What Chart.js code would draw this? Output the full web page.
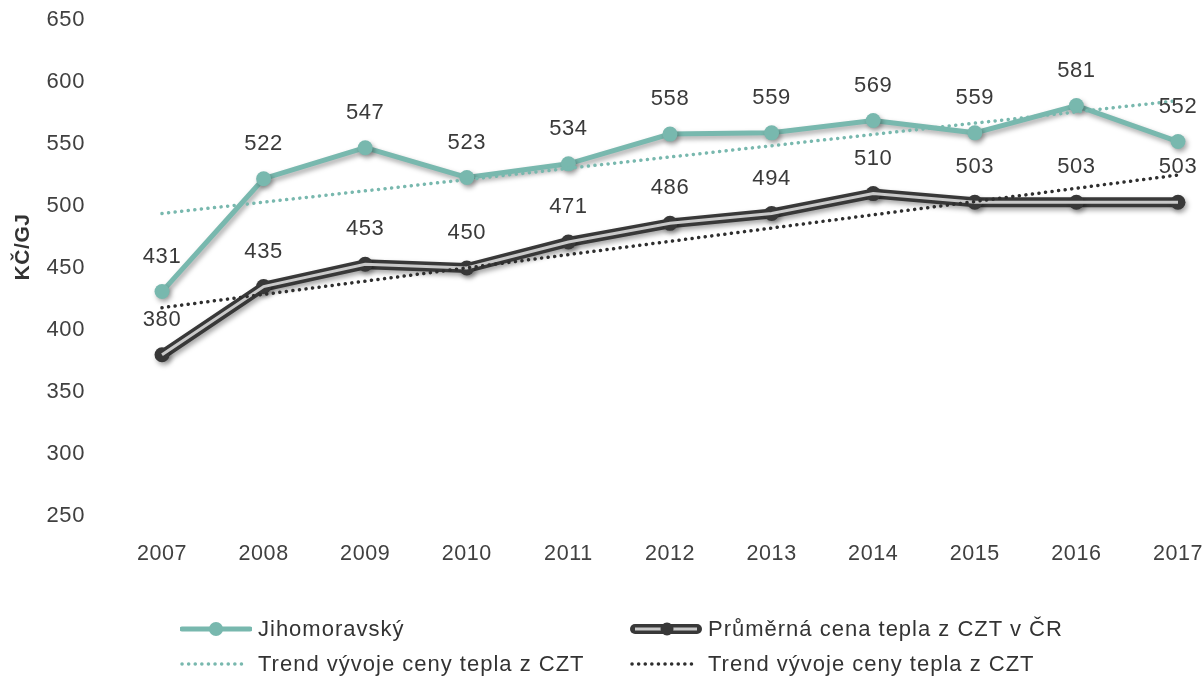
<!DOCTYPE html>
<html>
<head>
<meta charset="utf-8">
<script src="https://cdn.jsdelivr.net/npm/chart.js@4/dist/chart.umd.min.js"></script>
<style>
  body { margin: 0; background: #fff; }
  #wrap { position: relative; width: 1203px; height: 677px; }
  #legend { position: absolute; left: 0; top: 0; width: 1203px; height: 677px; pointer-events: none;
            font-family: "Liberation Sans", Arial, sans-serif; font-size: 22px; letter-spacing: 1px; color: #333; }
  .item { position: absolute; height: 30px; display: flex; align-items: center; white-space: nowrap; }
  .item svg { margin-right: 6px; }
</style>
</head>
<body>
<div id="wrap">
  <canvas id="chart1" width="1203" height="677"></canvas>
  <div id="legend"></div>
</div>
<script>
// data
const years = ['2007', '2008', '2009', '2010', '2011', '2012', '2013', '2014', '2015', '2016', '2017']
const jihomoravsky = [431, 522, 547, 523, 534, 558, 559, 569, 559, 581, 552]
const prumerCR = [380, 435, 453, 450, 471, 486, 494, 510, 503, 503, 503]
// trend lines: only the two ends are read, the line is drawn straight between them
const trendJmk = [494, null, null, null, null, null, null, null, null, null, 585]
const trendCR = [418, null, null, null, null, null, null, null, null, null, 525]
const yTicks = [250, 300, 350, 400, 450, 500, 550, 600, 650]

const teal = '#78b8ae'
const dark = '#383838'
const fontFamily = '"Liberation Sans", Arial, sans-serif'

//the reference text is a bit spaced out
const spacing = {
    id: 'spacing',
    beforeDraw(chart) { chart.ctx.letterSpacing = '0.6px' }
}

//labels above the points of the two main series + axis title
const valueLabels = {
    id: 'valueLabels',
    afterDatasetsDraw(chart) {
        const ctx = chart.ctx
        ctx.save()
        ctx.font = '22px ' + fontFamily
        ctx.fillStyle = '#3a3a3a'
        ctx.textAlign = 'center'
        ctx.textBaseline = 'middle'
        ;[0, 1].forEach(i => {
            const meta = chart.getDatasetMeta(i)
            meta.data.forEach((pt, j) => {
                ctx.fillText(chart.data.datasets[i].data[j], pt.x, pt.y - 35)
            })
        })
        //y axis title
        ctx.translate(23, 247)
        ctx.rotate(-Math.PI / 2)
        ctx.font = 'bold 21px ' + fontFamily
        ctx.fillStyle = '#333'
        ctx.fillText('KČ/GJ', 0, 0)
        ctx.restore()
    }
}

//soft shadow under the main series
const shadow = {
    id: 'shadow',
    beforeDatasetDraw(chart, args) {
        if (args.index > 2) return
        const ctx = chart.ctx
        ctx.save()
        if (args.index < 2) {
            ctx.shadowColor = 'rgba(0,0,0,0.35)'
            ctx.shadowBlur = 5
            ctx.shadowOffsetX = 2
            ctx.shadowOffsetY = 3
        }
    },
    afterDatasetDraw(chart, args) {
        if (args.index > 2) return
        chart.ctx.restore()
    }
}

const data = {
    labels: years,
    datasets: [{
        label: 'Jihomoravský',
        data: jihomoravsky,
        borderColor: teal,
        backgroundColor: teal,
        borderWidth: 5,
        pointRadius: 7.5,
        pointBorderWidth: 0,
        order: 5
    }, {
        label: 'Průměrná cena tepla z CZT v ČR',
        data: prumerCR,
        borderColor: dark,
        backgroundColor: dark,
        borderWidth: 10,
        pointRadius: 7.5,
        pointBorderWidth: 0,
        order: 4
    }, {
        label: 'inner',
        data: prumerCR,
        borderColor: '#c9c9c9',
        borderWidth: 3,
        pointRadius: 0,
        order: 3
    }, {
        label: 'Trend vývoje ceny tepla z CZT',
        data: trendJmk,
        borderColor: teal,
        borderWidth: 3.5,
        borderDash: [0.1, 6.5],
        borderCapStyle: 'round',
        pointRadius: 0,
        spanGaps: true,
        order: 2
    }, {
        label: 'Trend vývoje ceny tepla z CZT',
        data: trendCR,
        borderColor: '#2e2e2e',
        borderWidth: 3.5,
        borderDash: [0.1, 6.5],
        borderCapStyle: 'round',
        pointRadius: 0,
        spanGaps: true,
        order: 1
    }]
}

const config = {
    type: 'line',
    data: data,
    plugins: [spacing, valueLabels, shadow],
    options: {
        responsive: false,
        animation: false,
        clip: false,
        layout: { padding: { top: 20, right: 25, bottom: 111, left: 0 } },
        plugins: {
            legend: { display: false },
            tooltip: { enabled: false }
        },
        scales: {
            x: {
                offset: false,
                afterFit: function(scale) {
                    scale.height = 50
                    scale.paddingLeft = 0
                    scale.paddingRight = 0
                },
                grid: { display: false, drawTicks: false },
                border: { display: false },
                ticks: {
                    padding: 25,
                    maxRotation: 0,
                    color: '#404040',
                    font: { family: fontFamily, size: 21.5 }
                }
            },
            y: {
                min: 250,
                max: 650,
                afterFit: function(scale) {
                    scale.width = 162
                    scale.paddingTop = 0
                    scale.paddingBottom = 0
                },
                afterBuildTicks: function(scale) { scale.ticks = yTicks.map(v => ({ value: v })) },
                grid: { display: false, drawTicks: false },
                border: { display: false },
                ticks: {
                    padding: 77,
                    color: '#404040',
                    font: { family: fontFamily, size: 22 }
                }
            }
        }
    }
}

const Chart1 = new Chart(document.getElementById('chart1'), config)

//html legend, two columns
const legendItems = [
    { x: 180, y: 629, text: 'Jihomoravský',
      svg: '<line x1="2" y1="15" x2="70" y2="15" stroke="' + teal + '" stroke-width="5" stroke-linecap="round"/><circle cx="36" cy="15" r="7" fill="' + teal + '"/>' },
    { x: 630, y: 629, text: 'Průměrná cena tepla z CZT v ČR',
      svg: '<line x1="5" y1="15" x2="67" y2="15" stroke="' + dark + '" stroke-width="10" stroke-linecap="round"/><line x1="5" y1="15" x2="67" y2="15" stroke="#c9c9c9" stroke-width="3"/><circle cx="37" cy="15" r="6.5" fill="' + dark + '"/>' },
    { x: 180, y: 664, text: 'Trend vývoje ceny tepla z CZT',
      svg: '<line x1="2" y1="15" x2="68" y2="15" stroke="' + teal + '" stroke-width="3.5" stroke-linecap="round" stroke-dasharray="0.1 6.5"/>' },
    { x: 630, y: 664, text: 'Trend vývoje ceny tepla z CZT',
      svg: '<line x1="2" y1="15" x2="68" y2="15" stroke="#2e2e2e" stroke-width="3.5" stroke-linecap="round" stroke-dasharray="0.1 6.5"/>' }
]

const legend = document.getElementById('legend')
legendItems.forEach(it => {
    const div = document.createElement('div')
    div.className = 'item'
    div.style.left = it.x + 'px'
    div.style.top = (it.y - 15) + 'px'
    div.innerHTML = '<svg width="72" height="30">' + it.svg + '</svg><span>' + it.text + '</span>'
    legend.appendChild(div)
})
</script>
</body>
</html>
